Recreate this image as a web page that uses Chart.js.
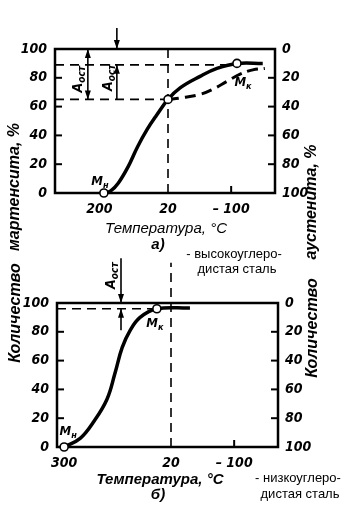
<!DOCTYPE html>
<html>
<head>
<meta charset="utf-8">
<script src="https://cdn.jsdelivr.net/npm/chart.js@4.4.1/dist/chart.umd.min.js"></script>
<style>
    body { margin: 0; background: #fff; }
    #page { position: relative; width: 360px; height: 521px; overflow: hidden; background: #fff; }
    canvas { position: absolute; left: 0; }
    #topChart { top: 0; }
    #botChart { top: 255px; }
    .txt { position: absolute; transform: translate(-50%, -50%); white-space: nowrap; color: #000; }
    .rot { transform: translate(-50%, -50%) rotate(-90deg); }
    .axis { font: italic bold 16px "Liberation Sans", "DejaVu Sans", sans-serif; }
    .xt { font: italic 15px "Liberation Sans", "DejaVu Sans", sans-serif; }
    .note { font: 13px "Liberation Sans", Arial, sans-serif; }
</style>
</head>
<body>
<div id="page">
    <canvas id="topChart" width="360" height="255"></canvas>
    <canvas id="botChart" width="360" height="266"></canvas>

    <div class="txt rot axis" style="left:14px; top:187px;">мартенсита, %</div>
    <div class="txt rot axis" style="left:311px; top:202px;">аустенита, %</div>
    <div class="txt xt" style="left:166px; top:227px;">Температура, °С</div>
    <div class="txt xt" style="left:158px; top:243px; font-weight:bold;">а)</div>
    <div class="txt note" style="left:234px; top:253px;">- высокоуглеро-</div>
    <div class="txt note" style="left:237px; top:268px;">дистая сталь</div>

    <div class="txt rot axis" style="left:15px; top:313px;">Количество</div>
    <div class="txt rot axis" style="left:312px; top:328px;">Количество</div>
    <div class="txt xt" style="left:160px; top:478px; font-weight:bold;">Температура, °С</div>
    <div class="txt xt" style="left:158px; top:493px; font-weight:bold;">б)</div>
    <div class="txt note" style="left:298px; top:477px;">- низкоуглеро-</div>
    <div class="txt note" style="left:300px; top:493px;">дистая сталь</div>
</div>

<script>
// ─── DATA ─────────────────────────────────────────────────────
const pctTicks = [0, 20, 40, 60, 80, 100];

// a) high-carbon steel
const topTempTicks   = [200, 20, -100];
const topTickLabels  = ['200', '20', '– 100'];
const topSolidTemp   = [188, 170, 150, 125, 100, 75, 50, 20, -3, -41, -73, -111, -160];
const topSolidPct    = [0, 1.5, 7, 18, 32, 44, 54, 65, 73, 81, 86.5, 90, 90];
const topDashTemp    = [20, -3, -41, -65, -92, -117, -141, -164];
const topDashPct     = [65, 66, 68.5, 72, 77.5, 82.5, 85.5, 86.5];
const topMarkTemp    = [188, 20, -111];
const topMarkPct     = [0, 65, 90];

// б) low-carbon steel
const botTempTicks   = [300, 20, -100];
const botTickLabels  = ['300', '20', '– 100'];
const botSolidTemp   = [300, 258, 224, 188, 167, 148, 127, 101, 57, -16];
const botSolidPct    = [0, 6, 17, 33, 51, 69, 81, 90, 96, 96.5];
const botMarkTemp    = [300, 57];
const botMarkPct     = [0, 96];

// temperature axis of the figure is not uniform: coarser above 20 °C
function tempToAxis(t) {
    return t >= 20 ? (20 - t) / 2.62 : (20 - t) / 1.9;
}
const pts = (temps, vals) => temps.map((t, i) => ({ x: tempToAxis(t), y: vals[i] }));

const FONT = '"Liberation Sans Narrow", "DejaVu Sans Condensed", "Liberation Sans", sans-serif';

// ─── EXTRA DRAWING (box, inner ticks, guides, arrows, labels) ─
function line(ctx, x1, y1, x2, y2) {
    ctx.beginPath(); ctx.moveTo(x1, y1); ctx.lineTo(x2, y2); ctx.stroke();
}
function head(ctx, x, y, dir) {
    ctx.beginPath();
    ctx.moveTo(x, y);
    ctx.lineTo(x - 3, y - dir * 9);
    ctx.lineTo(x + 3, y - dir * 9);
    ctx.closePath(); ctx.fill();
}
function subText(ctx, main, sub, x, y, size) {
    ctx.font = `italic bold ${size}px ${FONT}`;
    ctx.textBaseline = 'middle';
    ctx.textAlign = 'left';
    const w = ctx.measureText(main).width;
    ctx.font = `italic bold ${size - 4}px ${FONT}`;
    const sw = ctx.measureText(sub).width;
    const x0 = x - (w + sw) / 2;
    ctx.font = `italic bold ${size}px ${FONT}`;
    ctx.fillText(main, x0, y);
    ctx.font = `italic bold ${size - 4}px ${FONT}`;
    ctx.fillText(sub, x0 + w, y + 4);
}

const figureExtras = {
    id: 'figureExtras',
    beforeDatasetsDraw(chart, args, opts) {
        const { ctx, chartArea: a, scales: { x, y } } = chart;
        ctx.save();
        ctx.strokeStyle = '#000';
        ctx.lineWidth = 2.5;
        ctx.strokeRect(a.left, a.top, a.right - a.left, a.bottom - a.top);

        ctx.lineWidth = 2;
        pctTicks.slice(1, -1).forEach(v => {
            const py = y.getPixelForValue(v);
            line(ctx, a.left, py, a.left + 7, py);
            line(ctx, a.right - 7, py, a.right, py);
        });
        const px = x.getPixelForValue(tempToAxis(-100));
        line(ctx, px, a.bottom, px, a.bottom - 7);

        ctx.lineWidth = 1.6;
        ctx.setLineDash([9, 6]);
        opts.guides.forEach(g => {
            if (g.t !== undefined) {
                const gx = x.getPixelForValue(tempToAxis(g.t));
                line(ctx, gx, y.getPixelForValue(g.from), gx, y.getPixelForValue(g.to));
            } else {
                const gy = y.getPixelForValue(g.v);
                line(ctx, a.left, gy, x.getPixelForValue(tempToAxis(g.toT)), gy);
            }
        });
        ctx.restore();
    },
    afterDatasetsDraw(chart, args, opts) {
        const { ctx, scales: { x, y } } = chart;
        ctx.save();
        ctx.strokeStyle = '#000';
        ctx.fillStyle = '#000';
        ctx.lineWidth = 1.6;
        opts.arrows.forEach(ar => {
            const ax = x.getPixelForValue(tempToAxis(ar.t));
            const y1 = y.getPixelForValue(ar.from), y2 = y.getPixelForValue(ar.to);
            line(ctx, ax, y1, ax, y2);
            head(ctx, ax, y2, y2 > y1 ? 1 : -1);
            if (ar.both) head(ctx, ax, y1, y1 > y2 ? 1 : -1);
        });
        opts.labels.forEach(l => {
            const lx = x.getPixelForValue(tempToAxis(l.t)) + (l.dx || 0);
            const ly = y.getPixelForValue(l.v) + (l.dy || 0);
            ctx.save();
            ctx.translate(lx, ly);
            if (l.rot) ctx.rotate(-Math.PI / 2);
            subText(ctx, l.main, l.sub, 0, 0, l.size || 14);
            ctx.restore();
        });
        ctx.restore();
    }
};

// ─── CHART FACTORY ────────────────────────────────────────────
function makeChart(id, cfg) {
    const tickFont = { family: FONT, size: 14, style: 'italic', weight: 'bold' };
    return new Chart(document.getElementById(id), {
        type: 'line',
        data: { datasets: cfg.datasets },
        options: {
            responsive: false,
            animation: false,
            events: [],
            layout: { padding: { top: cfg.top, left: 0, right: 0, bottom: 0 } },
            plugins: {
                legend: { display: false },
                tooltip: { enabled: false },
                figureExtras: { guides: cfg.guides, arrows: cfg.arrows, labels: cfg.labels }
            },
            scales: {
                x: {
                    type: 'linear', position: 'bottom',
                    min: cfg.xMin, max: cfg.xMax,
                    grid: { display: false, drawTicks: false },
                    border: { display: false },
                    afterBuildTicks: s => { s.ticks = cfg.tempTicks.map(t => ({ value: tempToAxis(t) })); },
                    afterFit: s => { s.height = cfg.height - cfg.top - 144; },
                    ticks: {
                        autoSkip: false, maxRotation: 0, padding: 8, color: '#000', font: tickFont,
                        callback: (v, i) => cfg.tickLabels[i]
                    }
                },
                y: {
                    position: 'left', min: 0, max: 100,
                    grid: { display: false, drawTicks: false },
                    border: { display: false },
                    afterFit: s => { s.width = cfg.left; },
                    ticks: { stepSize: 20, padding: 8, color: '#000', font: tickFont }
                },
                y2: {
                    position: 'right', min: 0, max: 100, reverse: true,
                    grid: { display: false, drawTicks: false },
                    border: { display: false },
                    afterFit: s => { s.width = 360 - cfg.right; },
                    ticks: { stepSize: 20, padding: 7, color: '#000', font: tickFont }
                }
            }
        },
        plugins: [figureExtras]
    });
}

const markerStyle = {
    showLine: false, pointRadius: 4, pointBackgroundColor: '#fff',
    pointBorderColor: '#000', pointBorderWidth: 1.6, clip: false
};
const curveStyle = {
    borderColor: '#000', borderWidth: 3.5, pointRadius: 0,
    tension: 0.4, clip: false
};

// ─── a) ───────────────────────────────────────────────────────
makeChart('topChart', {
    top: 49, height: 255, left: 55, right: 275, xMin: -113, xMax: 107,
    tempTicks: topTempTicks, tickLabels: topTickLabels,
    datasets: [
        { data: pts(topMarkTemp, topMarkPct), ...markerStyle },
        { data: pts(topSolidTemp, topSolidPct), ...curveStyle },
        { data: pts(topDashTemp, topDashPct), ...curveStyle, borderWidth: 3, borderDash: [11, 6] }
    ],
    guides: [
        { t: 20, from: 0, to: 100 },
        { v: 89, toT: -111 },
        { v: 65, toT: 20 }
    ],
    arrows: [
        { t: 230, from: 65, to: 100, both: true },
        { t: 154, from: 114.5, to: 100 },
        { t: 154, from: 65, to: 89 }
    ],
    labels: [
        { t: 256, v: 79, rot: true, main: 'A', sub: 'ост' },
        { t: 177, v: 80, rot: true, main: 'A', sub: 'ост' },
        { t: 188, v: 0, dx: -4, dy: -11, main: 'M', sub: 'н', size: 13 },
        { t: -111, v: 90, dx: 6, dy: 19, main: 'M', sub: 'к', size: 13 }
    ]
});

// ─── б) ───────────────────────────────────────────────────────
makeChart('botChart', {
    top: 48, height: 266, left: 57, right: 278, xMin: -114, xMax: 107,
    tempTicks: botTempTicks, tickLabels: botTickLabels,
    datasets: [
        { data: pts(botMarkTemp, botMarkPct), ...markerStyle },
        { data: pts(botSolidTemp, botSolidPct), ...curveStyle }
    ],
    guides: [
        { t: 20, from: 0, to: 128 },
        { v: 96, toT: 57 }
    ],
    arrows: [
        { t: 151, from: 131, to: 100 },
        { t: 151, from: 81, to: 96 }
    ],
    labels: [
        { t: 175, v: 119, rot: true, main: 'A', sub: 'ост' },
        { t: 300, v: 0, dx: 4, dy: -15, main: 'M', sub: 'н', size: 13 },
        { t: 57, v: 96, dx: -2, dy: 15, main: 'M', sub: 'к', size: 13 }
    ]
});
</script>
</body>
</html>
